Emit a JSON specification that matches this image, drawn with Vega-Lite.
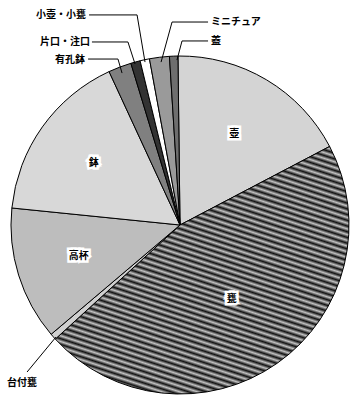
{
  "$schema": "https://vega.github.io/schema/vega-lite/v6.json",
  "width": 338,
  "height": 338,
  "autosize": {"type": "none"},
  "padding": {"left": 11, "top": 56, "right": 2, "bottom": 6},
  "background": "white",
  "config": {"view": {"stroke": null}, "text": {"font": "Noto Sans CJK JP"}},
  "datasets": {
    "slices": [
      {"n": 1, "cat": "壺", "pct": 17.5},
      {"n": 2, "cat": "甕", "pct": 45.9},
      {"n": 3, "cat": "台付甕", "pct": 0.6},
      {"n": 4, "cat": "高杯", "pct": 12.8},
      {"n": 5, "cat": "鉢", "pct": 16.5},
      {"n": 6, "cat": "有孔鉢", "pct": 2.2},
      {"n": 7, "cat": "片口・注口", "pct": 0.9},
      {"n": 8, "cat": "小壺・小甕", "pct": 0.9},
      {"n": 9, "cat": "ミニチュア", "pct": 1.9},
      {"n": 10, "cat": "蓋", "pct": 0.8}
    ],
    "labels": [
      {"cat": "小壺・小甕", "x": -0.556, "y": 1.243},
      {"cat": "片口・注口", "x": -0.533, "y": 1.083},
      {"cat": "有孔鉢", "x": -0.562, "y": 0.976},
      {"cat": "ミニチュア", "x": 0.183, "y": 1.201},
      {"cat": "蓋", "x": 0.183, "y": 1.089},
      {"cat": "台付甕", "x": -0.935, "y": -0.935}
    ],
    "leaders": [
      {"id": 1, "k": 1, "x": -0.538, "y": 1.243},
      {"id": 1, "k": 2, "x": -0.254, "y": 1.243},
      {"id": 1, "k": 3, "x": -0.207, "y": 0.964},
      {"id": 2, "k": 1, "x": -0.521, "y": 1.083},
      {"id": 2, "k": 2, "x": -0.308, "y": 1.083},
      {"id": 2, "k": 3, "x": -0.266, "y": 0.953},
      {"id": 3, "k": 1, "x": -0.544, "y": 0.982},
      {"id": 3, "k": 2, "x": -0.367, "y": 0.982},
      {"id": 3, "k": 3, "x": -0.343, "y": 0.899},
      {"id": 4, "k": 1, "x": 0.166, "y": 1.201},
      {"id": 4, "k": 2, "x": -0.047, "y": 1.201},
      {"id": 4, "k": 3, "x": -0.112, "y": 0.964},
      {"id": 5, "k": 1, "x": 0.166, "y": 1.089},
      {"id": 5, "k": 2, "x": 0.012, "y": 1.089},
      {"id": 5, "k": 3, "x": -0.018, "y": 0.976},
      {"id": 6, "k": 1, "x": -0.905, "y": -0.87},
      {"id": 6, "k": 2, "x": -0.734, "y": -0.663}
    ]
  },
  "layer": [
    {
      "data": {"name": "slices"},
      "mark": {"type": "arc", "outerRadius": 169, "stroke": "black", "strokeWidth": 1},
      "encoding": {
        "theta": {"field": "pct", "type": "quantitative", "stack": true, "scale": {"range": [-0.0122, 6.271]}},
        "order": {"field": "n", "type": "quantitative"},
        "fill": {
          "condition": {
            "test": "datum.cat === '甕'",
            "value": {
              "gradient": "linear", "x1": 1, "y1": 0, "x2": 0.533, "y2": 1.207,
              "stops": [
                {"offset": 0, "color": "#111"}, {"offset": 0.00833, "color": "#c4c4c4"}, {"offset": 0.01667, "color": "#111"}, {"offset": 0.025, "color": "#c4c4c4"}, {"offset": 0.03333, "color": "#111"}, {"offset": 0.04167, "color": "#c4c4c4"}, {"offset": 0.05, "color": "#111"}, {"offset": 0.05833, "color": "#c4c4c4"}, {"offset": 0.06667, "color": "#111"}, {"offset": 0.075, "color": "#c4c4c4"}, {"offset": 0.08333, "color": "#111"}, {"offset": 0.09167, "color": "#c4c4c4"},
                {"offset": 0.1, "color": "#111"}, {"offset": 0.10833, "color": "#c4c4c4"}, {"offset": 0.11667, "color": "#111"}, {"offset": 0.125, "color": "#c4c4c4"}, {"offset": 0.13333, "color": "#111"}, {"offset": 0.14167, "color": "#c4c4c4"}, {"offset": 0.15, "color": "#111"}, {"offset": 0.15833, "color": "#c4c4c4"}, {"offset": 0.16667, "color": "#111"}, {"offset": 0.175, "color": "#c4c4c4"}, {"offset": 0.18333, "color": "#111"}, {"offset": 0.19167, "color": "#c4c4c4"},
                {"offset": 0.2, "color": "#111"}, {"offset": 0.20833, "color": "#c4c4c4"}, {"offset": 0.21667, "color": "#111"}, {"offset": 0.225, "color": "#c4c4c4"}, {"offset": 0.23333, "color": "#111"}, {"offset": 0.24167, "color": "#c4c4c4"}, {"offset": 0.25, "color": "#111"}, {"offset": 0.25833, "color": "#c4c4c4"}, {"offset": 0.26667, "color": "#111"}, {"offset": 0.275, "color": "#c4c4c4"}, {"offset": 0.28333, "color": "#111"}, {"offset": 0.29167, "color": "#c4c4c4"},
                {"offset": 0.3, "color": "#111"}, {"offset": 0.30833, "color": "#c4c4c4"}, {"offset": 0.31667, "color": "#111"}, {"offset": 0.325, "color": "#c4c4c4"}, {"offset": 0.33333, "color": "#111"}, {"offset": 0.34167, "color": "#c4c4c4"}, {"offset": 0.35, "color": "#111"}, {"offset": 0.35833, "color": "#c4c4c4"}, {"offset": 0.36667, "color": "#111"}, {"offset": 0.375, "color": "#c4c4c4"}, {"offset": 0.38333, "color": "#111"}, {"offset": 0.39167, "color": "#c4c4c4"},
                {"offset": 0.4, "color": "#111"}, {"offset": 0.40833, "color": "#c4c4c4"}, {"offset": 0.41667, "color": "#111"}, {"offset": 0.425, "color": "#c4c4c4"}, {"offset": 0.43333, "color": "#111"}, {"offset": 0.44167, "color": "#c4c4c4"}, {"offset": 0.45, "color": "#111"}, {"offset": 0.45833, "color": "#c4c4c4"}, {"offset": 0.46667, "color": "#111"}, {"offset": 0.475, "color": "#c4c4c4"}, {"offset": 0.48333, "color": "#111"}, {"offset": 0.49167, "color": "#c4c4c4"},
                {"offset": 0.5, "color": "#111"}, {"offset": 0.50833, "color": "#c4c4c4"}, {"offset": 0.51667, "color": "#111"}, {"offset": 0.525, "color": "#c4c4c4"}, {"offset": 0.53333, "color": "#111"}, {"offset": 0.54167, "color": "#c4c4c4"}, {"offset": 0.55, "color": "#111"}, {"offset": 0.55833, "color": "#c4c4c4"}, {"offset": 0.56667, "color": "#111"}, {"offset": 0.575, "color": "#c4c4c4"}, {"offset": 0.58333, "color": "#111"}, {"offset": 0.59167, "color": "#c4c4c4"},
                {"offset": 0.6, "color": "#111"}, {"offset": 0.60833, "color": "#c4c4c4"}, {"offset": 0.61667, "color": "#111"}, {"offset": 0.625, "color": "#c4c4c4"}, {"offset": 0.63333, "color": "#111"}, {"offset": 0.64167, "color": "#c4c4c4"}, {"offset": 0.65, "color": "#111"}, {"offset": 0.65833, "color": "#c4c4c4"}, {"offset": 0.66667, "color": "#111"}, {"offset": 0.675, "color": "#c4c4c4"}, {"offset": 0.68333, "color": "#111"}, {"offset": 0.69167, "color": "#c4c4c4"},
                {"offset": 0.7, "color": "#111"}, {"offset": 0.70833, "color": "#c4c4c4"}, {"offset": 0.71667, "color": "#111"}, {"offset": 0.725, "color": "#c4c4c4"}, {"offset": 0.73333, "color": "#111"}, {"offset": 0.74167, "color": "#c4c4c4"}, {"offset": 0.75, "color": "#111"}, {"offset": 0.75833, "color": "#c4c4c4"}, {"offset": 0.76667, "color": "#111"}, {"offset": 0.775, "color": "#c4c4c4"}, {"offset": 0.78333, "color": "#111"}, {"offset": 0.79167, "color": "#c4c4c4"},
                {"offset": 0.8, "color": "#111"}, {"offset": 0.80833, "color": "#c4c4c4"}, {"offset": 0.81667, "color": "#111"}, {"offset": 0.825, "color": "#c4c4c4"}, {"offset": 0.83333, "color": "#111"}, {"offset": 0.84167, "color": "#c4c4c4"}, {"offset": 0.85, "color": "#111"}, {"offset": 0.85833, "color": "#c4c4c4"}, {"offset": 0.86667, "color": "#111"}, {"offset": 0.875, "color": "#c4c4c4"}, {"offset": 0.88333, "color": "#111"}, {"offset": 0.89167, "color": "#c4c4c4"},
                {"offset": 0.9, "color": "#111"}, {"offset": 0.90833, "color": "#c4c4c4"}, {"offset": 0.91667, "color": "#111"}, {"offset": 0.925, "color": "#c4c4c4"}, {"offset": 0.93333, "color": "#111"}, {"offset": 0.94167, "color": "#c4c4c4"}, {"offset": 0.95, "color": "#111"}, {"offset": 0.95833, "color": "#c4c4c4"}, {"offset": 0.96667, "color": "#111"}, {"offset": 0.975, "color": "#c4c4c4"}, {"offset": 0.98333, "color": "#111"}, {"offset": 0.99167, "color": "#c4c4c4"},
                {"offset": 1, "color": "#111"}
              ]
            }
          },
          "field": "cat",
          "type": "nominal",
          "legend": null,
          "scale": {
            "domain": ["壺", "甕", "台付甕", "高杯", "鉢", "有孔鉢", "片口・注口", "小壺・小甕", "ミニチュア", "蓋"],
            "range": ["#d4d4d4", "#6a6a6a", "#d0d0d0", "#bdbdbd", "#d8d8d8", "#808080", "#333333", "#ffffff", "#9a9a9a", "#6e6e6e"]
          }
        }
      }
    },
    {
      "data": {"name": "slices"},
      "mark": {"type": "text", "radius": 106, "fill": "white", "stroke": "white", "strokeWidth": 5, "fontSize": 10, "fontWeight": "bold"},
      "encoding": {
        "theta": {"field": "pct", "type": "quantitative", "stack": true},
        "order": {"field": "n", "type": "quantitative"},
        "text": {"condition": {"test": "datum.cat === '壺' || datum.cat === '鉢' || datum.cat === '高杯'", "field": "cat", "type": "nominal"}, "value": ""}
      }
    },
    {
      "data": {"name": "slices"},
      "mark": {"type": "text", "radius": 106, "fill": "black", "fontSize": 10, "fontWeight": "bold"},
      "encoding": {
        "theta": {"field": "pct", "type": "quantitative", "stack": true},
        "order": {"field": "n", "type": "quantitative"},
        "text": {"condition": {"test": "datum.cat === '壺' || datum.cat === '鉢' || datum.cat === '高杯'", "field": "cat", "type": "nominal"}, "value": ""}
      }
    },
    {
      "data": {"name": "slices"},
      "mark": {"type": "text", "radius": 90, "fill": "white", "stroke": "white", "strokeWidth": 5, "fontSize": 10, "fontWeight": "bold"},
      "encoding": {
        "theta": {"field": "pct", "type": "quantitative", "stack": true},
        "order": {"field": "n", "type": "quantitative"},
        "text": {"condition": {"test": "datum.cat === '甕'", "field": "cat", "type": "nominal"}, "value": ""}
      }
    },
    {
      "data": {"name": "slices"},
      "mark": {"type": "text", "radius": 90, "fill": "black", "fontSize": 10, "fontWeight": "bold"},
      "encoding": {
        "theta": {"field": "pct", "type": "quantitative", "stack": true},
        "order": {"field": "n", "type": "quantitative"},
        "text": {"condition": {"test": "datum.cat === '甕'", "field": "cat", "type": "nominal"}, "value": ""}
      }
    },
    {
      "data": {"name": "leaders"},
      "mark": {"type": "line", "stroke": "black", "strokeWidth": 1},
      "encoding": {
        "x": {"field": "x", "type": "quantitative", "scale": {"domain": [-1, 1], "nice": false, "zero": false}, "axis": null},
        "y": {"field": "y", "type": "quantitative", "scale": {"domain": [-1, 1], "nice": false, "zero": false}, "axis": null},
        "detail": {"field": "id", "type": "nominal"},
        "order": {"field": "k", "type": "quantitative"}
      }
    },
    {
      "data": {"name": "labels"},
      "transform": [{"filter": {"field": "cat", "oneOf": ["小壺・小甕", "片口・注口", "有孔鉢"]}}],
      "mark": {"type": "text", "align": "right", "baseline": "middle", "fontSize": 10, "fontWeight": "bold"},
      "encoding": {
        "x": {"field": "x", "type": "quantitative"},
        "y": {"field": "y", "type": "quantitative"},
        "text": {"field": "cat", "type": "nominal"}
      }
    },
    {
      "data": {"name": "labels"},
      "transform": [{"filter": {"field": "cat", "oneOf": ["ミニチュア", "蓋"]}}],
      "mark": {"type": "text", "align": "left", "baseline": "middle", "fontSize": 10, "fontWeight": "bold"},
      "encoding": {
        "x": {"field": "x", "type": "quantitative"},
        "y": {"field": "y", "type": "quantitative"},
        "text": {"field": "cat", "type": "nominal"}
      }
    },
    {
      "data": {"name": "labels"},
      "transform": [{"filter": {"field": "cat", "equal": "台付甕"}}],
      "mark": {"type": "text", "align": "center", "baseline": "middle", "fontSize": 10, "fontWeight": "bold"},
      "encoding": {
        "x": {"field": "x", "type": "quantitative"},
        "y": {"field": "y", "type": "quantitative"},
        "text": {"field": "cat", "type": "nominal"}
      }
    }
  ]
}
